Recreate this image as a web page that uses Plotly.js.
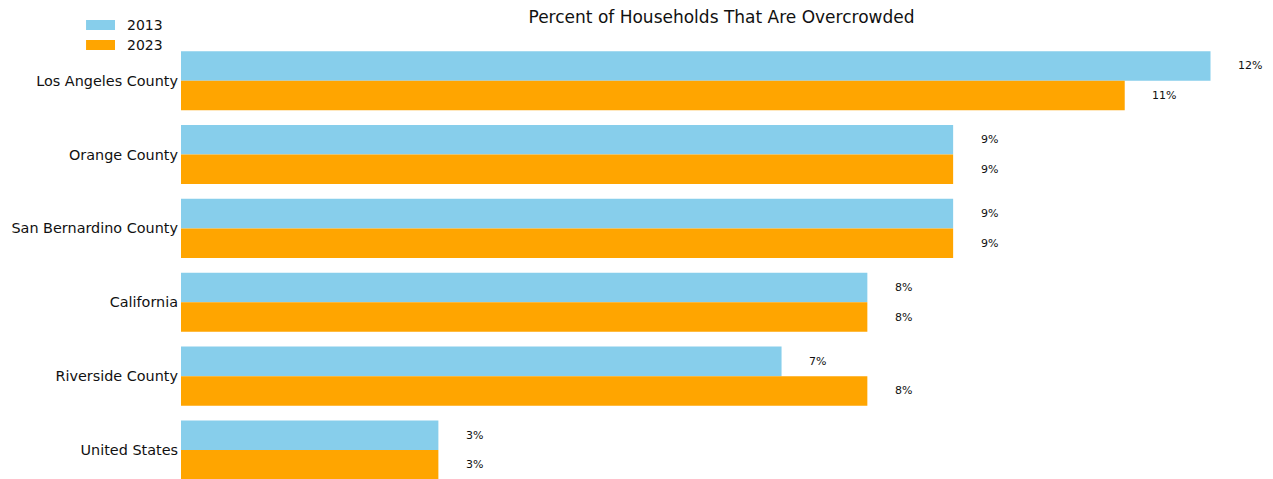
<!DOCTYPE html>
<html>
<head>
<meta charset="utf-8">
<script src="https://cdn.plot.ly/plotly-3.0.1.min.js"></script>
<style>html,body{margin:0;padding:0;background:#fff;}#chart{width:1273px;height:479px;}</style>
</head>
<body>
<div id="chart"></div>
<script>
const categories = ["Los Angeles County", "Orange County", "San Bernardino County", "California", "Riverside County", "United States"];
const seriesNames = ["2013", "2023"];
const values2013 = [12, 9, 9, 8, 7, 3];
const values2023 = [11, 9, 9, 8, 8, 3];
const colors = ["#87CEEB", "#FFA500"];

const font = "DejaVu Sans, sans-serif";
const idx = categories.map((_, i) => i);
const series = [values2013, values2023];
const traces = series.map((vals, s) => ({
  type: "bar",
  orientation: "h",
  name: seriesNames[s],
  x: vals,
  y: idx.map(i => i + (s === 0 ? -0.2 : 0.2)),
  width: 0.4,
  marker: {color: colors[s], line: {width: 0}},
  showlegend: false,
  hoverinfo: "x+y"
}));

const annotations = [];
series.forEach((vals, s) => {
  vals.forEach((v, i) => {
    annotations.push({
      x: v + 0.3, y: i + (s === 0 ? -0.2 : 0.2), xref: "x", yref: "y",
      text: v + "%", showarrow: false, xanchor: "left", yanchor: "middle",
      font: {family: font, size: 11, color: "#111"}
    });
  });
});
// legend (custom, wide patches)
const shapes = [];
seriesNames.forEach((n, s) => {
  const yc = 25 + 20 * s;
  shapes.push({type: "rect", xref: "paper", yref: "paper",
    x0: (86 - 181) / 1081.5, x1: (115 - 181) / 1081.5,
    y0: 1 - (yc + 5) / 479, y1: 1 - (yc - 5) / 479,
    fillcolor: colors[s], line: {width: 0}});
  annotations.push({xref: "paper", yref: "paper",
    x: (125 - 181) / 1081.5, y: 1 - yc / 479, xanchor: "left", yanchor: "middle",
    text: n, showarrow: false, font: {family: font, size: 14, color: "#111"}});
});

const layout = {
  width: 1273, height: 479,
  margin: {l: 181, r: 10.5, t: 0, b: 0, pad: 0},
  paper_bgcolor: "#fff", plot_bgcolor: "#fff",
  title: {text: "Percent of Households That Are Overcrowded", x: 0.5, xref: "paper",
    y: 1 - 17 / 479, yref: "container", yanchor: "middle", xanchor: "center",
    font: {family: font, size: 17, color: "#111"}},
  barmode: "overlay",
  xaxis: {range: [0, 12.6], visible: false, showgrid: false, zeroline: false},
  yaxis: {range: [5.3926, -1.0925], tickvals: idx, ticktext: categories,
    showgrid: false, zeroline: false, showline: false, ticks: "", ticklabelstandoff: 2,
    tickfont: {family: font, size: 14.4, color: "#111"}},
  annotations: annotations,
  shapes: shapes,
  showlegend: false
};
Plotly.newPlot("chart", traces, layout, {displayModeBar: false, staticPlot: true});
</script>
</body>
</html>
